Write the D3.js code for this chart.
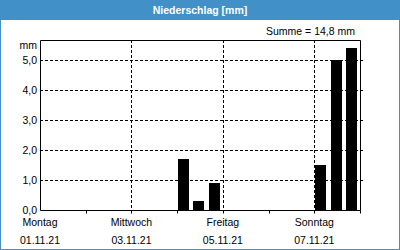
<!DOCTYPE html>
<html>
<head>
<meta charset="utf-8">
<script src="https://cdn.jsdelivr.net/npm/d3@7"></script>
<style>
  html, body { margin: 0; padding: 0; background: #fff; }
  svg { display: block; }
  text { font-family: Tahoma, "Liberation Sans", Arial, sans-serif; }
</style>
</head>
<body>
<svg id="chart" width="400" height="250"></svg>
<script>
// Niederschlag in 8-Stunden-Intervallen, Montag 01.11.21 bis Sonntag 07.11.21
const days = ["01.11.21", "02.11.21", "03.11.21", "04.11.21", "05.11.21", "06.11.21", "07.11.21"];
const dayNames = ["Montag", "Dienstag", "Mittwoch", "Donnerstag", "Freitag", "Samstag", "Sonntag"];
const slotsPerDay = 3;
const precip = [
  0, 0, 0,        // Mo
  0, 0, 0,        // Di
  0, 0, 0,        // Mi
  1.7, 0.3, 0.9,  // Do
  0, 0, 0,        // Fr
  0, 0, 0,        // Sa
  1.5, 5.0, 5.4   // So
];
const yTicks = [0, 1, 2, 3, 4, 5];
const labelDays = [0, 2, 4, 6];

const svg = d3.select("#chart");
const W = 400, H = 250;
const m = { left: 40, right: 40, top: 40, bottom: 40 };
const fs = 10.5;

// frame and header
svg.append("rect").attr("x", 0.5).attr("y", 0.5).attr("width", W - 1).attr("height", H - 1)
  .attr("fill", "#fff").attr("stroke", "#4191c8");
svg.append("rect").attr("x", 0).attr("y", 0).attr("width", W).attr("height", 20).attr("fill", "#4191c8");
svg.append("text").attr("x", W / 2).attr("y", 14).attr("text-anchor", "middle")
  .attr("fill", "#fff").attr("font-size", 10.5).attr("font-weight", "bold").text("Niederschlag [mm]");

const total = d3.sum(precip);
svg.append("text").attr("x", 355).attr("y", 35).attr("text-anchor", "end")
  .attr("font-size", fs).attr("fill", "#000")
  .text("Summe = " + total.toFixed(1).replace(".", ",") + " mm");

const x = d3.scaleLinear().domain([0, days.length]).range([m.left, W - m.right]);
const y = d3.scaleLinear().domain([0, 5.667]).range([H - m.bottom, m.top]);

// horizontal grid
svg.append("g").selectAll("line").data(yTicks.filter(d => d > 0)).join("line")
  .attr("x1", x(0)).attr("x2", x(days.length) + 3)
  .attr("y1", d => Math.round(y(d)) + 0.5).attr("y2", d => Math.round(y(d)) + 0.5)
  .attr("stroke", "#000").attr("stroke-dasharray", "3,2");

// vertical grid every two days
svg.append("g").selectAll("line").data([2, 4, 6]).join("line")
  .attr("x1", d => Math.round(x(d)) + 0.5).attr("x2", d => Math.round(x(d)) + 0.5)
  .attr("y1", y.range()[1]).attr("y2", y.range()[0])
  .attr("stroke", "#000").attr("stroke-dasharray", "3,2");

// bars
const slotW = (x(1) - x(0)) / slotsPerDay;
svg.append("g").selectAll("rect").data(precip.map((v, i) => ({ v, i })).filter(d => d.v > 0)).join("rect")
  .attr("x", d => Math.round(x(d.i / slotsPerDay)) + 1)
  .attr("width", Math.round(slotW - 4))
  .attr("y", d => Math.round(y(d.v)))
  .attr("height", d => y(0) - Math.round(y(d.v)))
  .attr("fill", "#000");

// plot frame: left, top, right, bottom
const x0 = x(0) + 0.5, x1 = Math.round(x(days.length)) + 0.5;
const yTop = y.range()[1] + 0.5, yBot = y.range()[0] + 0.5;
svg.append("path")
  .attr("d", `M${x0},${yBot}V${yTop}H${x1}V${yBot}Z`)
  .attr("fill", "none").attr("stroke", "#000");

// day ticks on the time axis
svg.append("g").selectAll("line").data(d3.range(1, days.length + 1)).join("line")
  .attr("x1", d => Math.round(x(d)) + 0.5).attr("x2", d => Math.round(x(d)) + 0.5)
  .attr("y1", yBot).attr("y2", yBot + 3).attr("stroke", "#000");

// y axis labels
svg.append("g").selectAll("text").data(yTicks).join("text")
  .attr("x", 37).attr("y", d => y(d) + 4).attr("text-anchor", "end")
  .attr("font-size", fs).attr("fill", "#000")
  .text(d => d.toFixed(1).replace(".", ","));
svg.append("text").attr("x", 37).attr("y", 49).attr("text-anchor", "end")
  .attr("font-size", fs).attr("fill", "#000").text("mm");

// x labels
const xl = svg.append("g").selectAll("g").data(labelDays).join("g")
  .attr("transform", d => `translate(${x(d)},0)`);
xl.append("text").attr("y", 226).attr("text-anchor", "middle").attr("font-size", fs)
  .text(d => dayNames[d]);
xl.append("text").attr("y", 244).attr("text-anchor", "middle").attr("font-size", fs)
  .text(d => days[d]);
</script>
</body>
</html>
